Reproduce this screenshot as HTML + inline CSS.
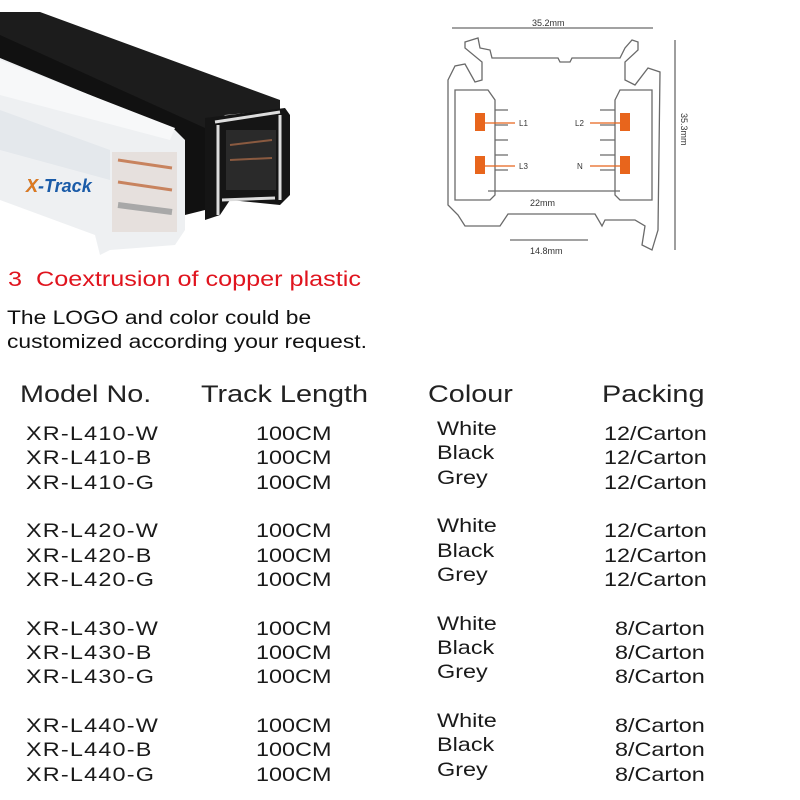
<!DOCTYPE html>
<html><head><style>
body{margin:0;width:800px;height:800px;background:#fff;position:relative;overflow:hidden;font-family:"Liberation Sans",sans-serif;}
.t{position:absolute;white-space:nowrap;color:#1a1a1a;transform:scaleX(1.2);transform-origin:0 0;}
.h{font-size:24px;top:381px;color:#222;}
.r{font-size:19.5px;}
.m{letter-spacing:1px;}
</style></head><body>
<svg width="400" height="270" style="position:absolute;left:0;top:0">
<polygon points="0,12 40,12 280,100 280,110 225,115 200,132 0,40" fill="#1c1c1c"/>
<polygon points="0,35 205,128 205,210 185,215 175,150 0,70" fill="#111"/>
<polygon points="205,118 285,108 290,115 290,195 280,205 230,200 220,215 205,220" fill="#151515"/>
<path d="M215,122 L280,112 M218,125 V215 M280,115 V200 M222,200 L275,198" stroke="#ddd" stroke-width="3" fill="none"/>
<rect x="226" y="130" width="50" height="60" fill="#2a2a2a"/>
<path d="M230,145 L272,140 M230,160 L272,158" stroke="#8a5a40" stroke-width="2"/>
<polygon points="0,58 175,130 185,140 185,230 175,245 110,250 100,255 95,235 0,200" fill="#eef0f2"/>
<polygon points="0,60 175,128 170,140 0,95" fill="#f7f8f9"/>
<polygon points="0,110 110,150 110,180 0,150" fill="#e4e8ec"/>
<rect x="112" y="152" width="65" height="80" fill="#e6e0dd"/>
<path d="M118,160 L172,168 M118,182 L172,190" stroke="#c8835e" stroke-width="3"/>
<path d="M118,205 L172,212" stroke="#a8a8a8" stroke-width="6"/>
<text x="26" y="192" font-family="Liberation Sans" font-weight="bold" font-style="italic" font-size="18" fill="#1a5ba8">X-Track</text>
<text x="26" y="192" font-family="Liberation Sans" font-weight="bold" font-style="italic" font-size="18" fill="#e07a1f">X</text>
</svg>
<svg width="300" height="270" style="position:absolute;left:420px;top:0">
<g stroke="#6a6a6a" stroke-width="1.3" fill="none">
<line x1="32" y1="28" x2="233" y2="28"/>
<line x1="255" y1="40" x2="255" y2="250"/>
<line x1="90" y1="240" x2="168" y2="240"/>
<line x1="68" y1="191" x2="200" y2="191"/>
<path d="M45,42 L58,38 L60,48 L70,50 L72,58 L138,58 L140,62 L150,62 L152,58 L200,58 L205,48 L212,40 L218,42 L218,50 L205,62 L205,80 L215,85 L228,68 L240,72 L238,230 L232,250 L222,245 L225,226 L215,220 L185,220 L182,226 L175,214 L88,214 L80,226 L45,226 L38,215 L28,205 L28,80 L35,66 L45,64 L55,82 L62,80 L62,62 L45,48 Z"/>
<path d="M35,90 L68,90 L75,100 L75,195 L70,200 L35,200 Z"/>
<path d="M232,90 L200,90 L195,100 L195,195 L200,200 L232,200 Z"/>
<path d="M75,110 L88,110 M75,125 L88,125 M75,140 L88,140 M75,155 L88,155 M75,170 L88,170 M195,110 L180,110 M195,125 L180,125 M195,140 L180,140 M195,155 L180,155 M195,170 L180,170"/>
</g>
<g fill="#e8651c"><rect x="55" y="113" width="10" height="18"/><rect x="55" y="156" width="10" height="18"/><rect x="200" y="113" width="10" height="18"/><rect x="200" y="156" width="10" height="18"/></g>
<g stroke="#e8651c" stroke-width="1.2"><line x1="65" y1="123" x2="95" y2="123"/><line x1="65" y1="166" x2="95" y2="166"/><line x1="170" y1="123" x2="200" y2="123"/><line x1="170" y1="166" x2="200" y2="166"/></g>
<g font-family="Liberation Sans" font-size="8" fill="#333">
<text x="99" y="126">L1</text><text x="99" y="169">L3</text><text x="155" y="126">L2</text><text x="157" y="169">N</text>
<text x="112" y="26" font-size="9">35.2mm</text>
<text x="110" y="206" font-size="9">22mm</text>
<text x="110" y="254" font-size="9">14.8mm</text>
<text x="0" y="0" font-size="9" transform="translate(261,113) rotate(90)">35.3mm</text>
</g>
</svg>
<div class="t" style="left:8px;top:268px;font-size:21px;color:#e0141e;">3&nbsp; Coextrusion of copper plastic</div>
<div class="t" style="left:7px;top:307px;font-size:19px;line-height:24px;color:#111;">The LOGO and color could be<br>customized according your request.</div>
<div class="t h" style="left:20px">Model No.</div>
<div class="t h" style="left:201px">Track Length</div>
<div class="t h" style="left:428px">Colour</div>
<div class="t h" style="left:602px">Packing</div>
<div id="rows"></div>
<script>
var m=["410","420","430","440"],c=["W","B","G"],cn=["White","Black","Grey"],h="";
for(var g=0;g<4;g++)for(var i=0;i<3;i++){var y=423+g*97.3+i*24.3;
h+='<div class="t r m" style="left:26px;top:'+y+'px">XR-L'+m[g]+'-'+c[i]+'</div>';
h+='<div class="t r" style="left:256px;top:'+y+'px">100CM</div>';
h+='<div class="t r" style="left:437px;top:'+(y-5)+'px">'+cn[i]+'</div>';
h+='<div class="t r" style="left:'+(g<2?604:615)+'px;top:'+y+'px">'+(g<2?'12':'8')+'/Carton</div>';}
document.getElementById('rows').innerHTML=h;
</script>
</body></html>
